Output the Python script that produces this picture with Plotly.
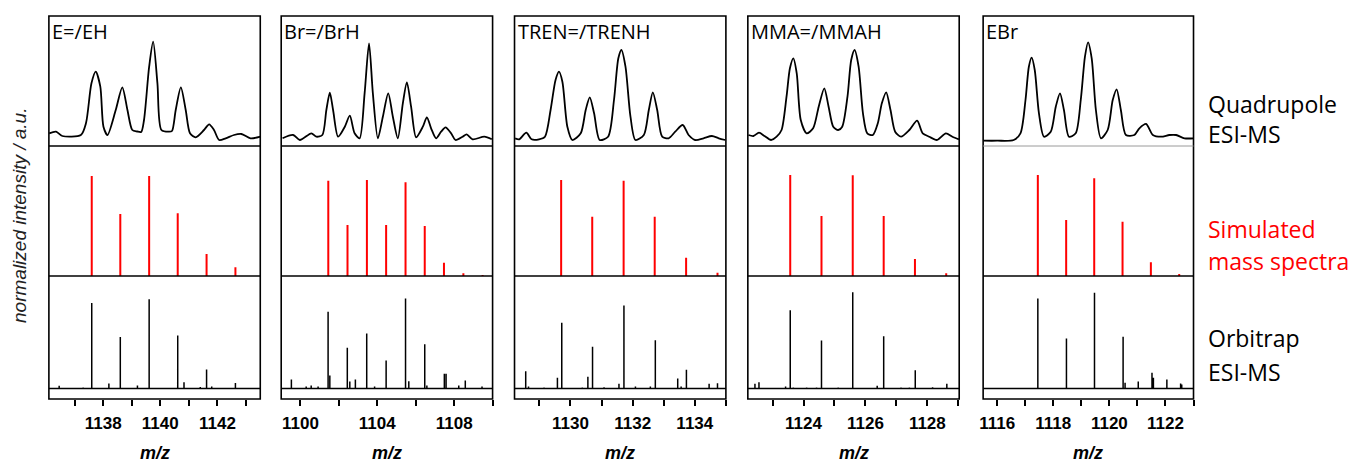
import plotly.graph_objects as go

# ---------------- data (m/z, normalized intensity / a.u.) ----------------
panel_titles = ["E=/EH", "Br=/BrH", "TREN=/TRENH", "MMA=/MMAH", "EBr"]

# Quadrupole ESI-MS profiles
q1_mz = [1136.11, 1136.35, 1136.57, 1137.22, 1137.40, 1137.59, 1137.74, 1137.90, 1138.01, 1138.15, 1138.44, 1138.67,
         1138.85, 1139.02, 1139.19, 1139.33, 1139.43, 1139.61, 1139.75, 1139.90, 1140.04, 1140.31, 1140.41, 1140.54,
         1140.72, 1140.89, 1141.04, 1141.24, 1141.53, 1141.71, 1141.88, 1142.06, 1142.29, 1142.58, 1142.84, 1143.16, 1143.51]
q1_int = [12.7, 14.3, 10, 11, 23, 62.7, 74.3, 59.3, 19.3, 11, 36, 58.7, 36, 16, 14.5, 14, 26, 79.3, 104.3, 62.7, 16,
          14.3, 15, 36, 58.7, 36, 12.7, 8.7, 16, 21.7, 16, 6, 7.7, 11, 12, 7.7, 9.3]

q2_mz = [1099.07, 1099.62, 1099.97, 1100.57, 1100.83, 1101.14, 1101.35, 1101.53, 1101.70, 1101.96, 1102.31, 1102.57,
         1102.82, 1103.08, 1103.34, 1103.57, 1103.77, 1104.03, 1104.29, 1104.57, 1104.81, 1105.07, 1105.33, 1105.54,
         1105.76, 1106.02, 1106.37, 1106.58, 1106.80, 1107.06, 1107.32, 1107.55, 1107.84, 1108.07, 1108.44, 1108.65,
         1108.96, 1109.57, 1109.96]
q2_int = [7.7, 11, 6, 12.7, 9.3, 11, 36, 53.3, 36, 9.3, 19.3, 30.3, 12.7, 7.7, 52.7, 102.7, 52.7, 7.7, 29.3, 52.7,
          29.3, 7.7, 42.7, 63.7, 39.3, 8.7, 19.3, 28.7, 17.7, 7.7, 14.3, 18.7, 12.7, 6, 9.3, 11.7, 6.7, 9.3, 6.7]

q3_mz = [1128.22, 1128.35, 1128.58, 1128.75, 1128.99, 1129.18, 1129.36, 1129.52, 1129.63, 1129.74, 1129.90, 1130.06,
         1130.33, 1130.49, 1130.62, 1130.76, 1130.94, 1131.21, 1131.40, 1131.54, 1131.64, 1131.77, 1131.93, 1132.09,
         1132.36, 1132.52, 1132.65, 1132.79, 1132.95, 1133.16, 1133.37, 1133.61, 1133.80, 1134.01, 1134.28, 1134.55,
         1134.77, 1134.98]
q3_int = [7.7, 6.7, 13.3, 6.7, 6.7, 9.3, 36, 66, 74.3, 64.3, 19.3, 6, 12.7, 36, 48.7, 32.7, 6, 9.3, 46, 87.7, 96,
          79.3, 29.3, 6, 11, 36, 53.7, 36, 9.3, 7.7, 14.3, 21, 11, 6, 7.7, 10, 7.7, 6]

q4_mz = [1122.22, 1122.38, 1122.56, 1122.74, 1122.95, 1123.13, 1123.29, 1123.45, 1123.56, 1123.67, 1123.78, 1123.91,
         1124.10, 1124.31, 1124.49, 1124.67, 1124.81, 1124.96, 1125.12, 1125.25, 1125.42, 1125.54, 1125.65, 1125.78,
         1125.92, 1126.06, 1126.24, 1126.40, 1126.53, 1126.67, 1126.81, 1126.96, 1127.15, 1127.42, 1127.67, 1127.85,
         1128.06, 1128.31, 1128.60, 1128.81, 1129.02]
q4_int = [11, 10, 13.3, 10, 6, 9.3, 16, 49.3, 77.7, 87.7, 72.7, 26, 12.7, 17.7, 39.3, 57.7, 39.3, 19.3, 16, 19.3,
          49.3, 86, 96, 79.3, 32.7, 12.7, 11, 22.7, 42.7, 53.7, 36, 14.3, 9.3, 16, 25.3, 12.7, 9.3, 6, 12.7, 9.3, 6.7]

q5_mz = [1115.50, 1116.00, 1116.59, 1116.83, 1117.01, 1117.13, 1117.23, 1117.34, 1117.49, 1117.67, 1117.91, 1118.09,
         1118.24, 1118.38, 1118.56, 1118.80, 1118.98, 1119.13, 1119.24, 1119.37, 1119.52, 1119.70, 1119.94, 1120.12,
         1120.26, 1120.41, 1120.59, 1120.89, 1121.07, 1121.31, 1121.55, 1121.85, 1122.14, 1122.38, 1122.68, 1123.02]
q5_int = [5.3, 5.3, 6, 12.7, 46, 79.3, 88.3, 76, 32.7, 9.3, 14.3, 39.3, 52.7, 36, 9.3, 12.7, 46, 89.3, 103.7, 87.7,
          36, 7.7, 16, 46, 56.7, 36, 11, 11, 17.7, 22, 11, 9.3, 11, 11, 7.7, 7.7]

# Simulated mass spectra (stick positions and heights)
s1_mz = [1137.60, 1138.60, 1139.61, 1140.61, 1141.62, 1142.63]
s1_int = [100, 62, 100, 62.7, 22, 8.7]
s2_mz = [1101.45, 1102.45, 1103.46, 1104.46, 1105.47, 1106.47, 1107.47, 1108.48, 1109.48]
s2_int = [95.3, 51, 96, 51, 93.7, 50, 13.3, 2.7, 1]
s3_mz = [1129.70, 1130.70, 1131.71, 1132.71, 1133.72, 1134.73]
s3_int = [96, 59.3, 95.3, 59.3, 18.3, 3.3]
s4_mz = [1123.57, 1124.58, 1125.59, 1126.59, 1127.60, 1128.61]
s4_int = [101, 60, 100.7, 60, 17, 2.7]
s5_mz = [1117.45, 1118.46, 1119.46, 1120.47, 1121.48, 1122.49]
s5_int = [101, 56, 97.7, 54.3, 13.7, 2]

# Orbitrap ESI-MS (centroid sticks)
o1_mz = [1136.46, 1137.30, 1137.60, 1138.20, 1138.60, 1139.20, 1139.61, 1140.61, 1140.83, 1141.40, 1141.62, 1141.80, 1142.63]
o1_int = [2.7, 1, 85.6, 5, 51.6, 3, 89.3, 53, 6.3, 1.5, 19, 2, 5.6]
o2_mz = [1099.53, 1100.30, 1100.56, 1100.92, 1101.44, 1101.53, 1102.44, 1102.57, 1102.86, 1103.45, 1103.86, 1104.46,
         1105.47, 1105.64, 1106.47, 1106.58, 1107.49, 1107.58, 1108.24, 1108.58, 1109.45]
o2_int = [9, 2, 3, 2, 76.7, 13, 40.7, 7, 9, 55, 2, 28, 90, 7.3, 44.3, 3, 14.7, 14.7, 3, 8, 2]
o3_mz = [1128.56, 1128.65, 1129.15, 1129.58, 1129.72, 1130.38, 1130.56, 1130.71, 1131.08, 1131.56, 1131.72, 1132.09,
         1132.57, 1132.73, 1133.45, 1133.56, 1133.73, 1134.46, 1134.73]
o3_int = [17.3, 2, 1, 10.7, 65.7, 1, 11.7, 41.7, 1.3, 4.7, 83, 2, 2, 48.3, 10, 2, 18.7, 4.7, 5.3]
o4_mz = [1122.43, 1122.56, 1123.42, 1123.57, 1123.67, 1124.10, 1124.42, 1124.58, 1125.12, 1125.59, 1126.38, 1126.59,
         1127.15, 1127.42, 1127.61, 1128.17, 1128.63]
o4_int = [4.7, 6.3, 2, 78.3, 1, 1, 1, 48, 1, 96.3, 2.7, 52.3, 1, 1, 18.3, 1.3, 4.7]
o5_mz = [1117.45, 1118.47, 1119.47, 1120.49, 1120.56, 1121.03, 1121.52, 1121.57, 1122.05, 1122.54, 1122.58]
o5_int = [90, 50, 95.7, 51.7, 5.7, 7, 15.7, 10.7, 9, 5, 4]

quad = [(q1_mz, q1_int), (q2_mz, q2_int), (q3_mz, q3_int), (q4_mz, q4_int), (q5_mz, q5_int)]
sim = [(s1_mz, s1_int), (s2_mz, s2_int), (s3_mz, s3_int), (s4_mz, s4_int), (s5_mz, s5_int)]
orbi = [(o1_mz, o1_int), (o2_mz, o2_int), (o3_mz, o3_int), (o4_mz, o4_int), (o5_mz, o5_int)]

# ---------------- layout constants ----------------
W, H = 1360, 462
OFF = 8  # page body margin of the rendered html
lefts = [45, 278, 512, 746, 982]
rights = [257, 490, 724, 958, 1193]
x_ranges = [[1136.1, 1143.5], [1099.0, 1110.0], [1128.2, 1135.0], [1122.2, 1129.03], [1115.5, 1123.0]]
major = [2, 4, 2, 2, 2]
minor = [1, 2, 1, 1, 1]
TOP, SEP1, SEP2, BOT = 16, 146, 276, 399
rows_px = [(TOP, SEP1), (SEP1, SEP2), (SEP2, BOT)]
y_ranges = [[0, 130], [0, 130], [-10.5, 112.5]]


def px_x(p):
    return (p - OFF) / W


def px_y(p):
    return 1 - (p - OFF) / H


def sticks(mz, inten):
    xs, ys = [], []
    for m, h in zip(mz, inten):
        xs += [m, m, None]
        ys += [0, h, None]
    return xs, ys


def profile(mz, inten, x0, x1):
    xs, ys = [x0], [0]
    for m, h in sorted(zip(mz, inten)):
        xs += [m, m, m]
        ys += [0, h, 0]
    xs.append(x1)
    ys.append(0)
    return xs, ys


fig = go.Figure()
layout = {}
for i in range(5):
    for r in range(3):
        k = i * 3 + r + 1
        sfx = "" if k == 1 else str(k)
        xa = dict(domain=[px_x(lefts[i]), px_x(rights[i])], range=x_ranges[i], anchor="y" + sfx,
                  showgrid=False, zeroline=False, showline=False, fixedrange=True)
        if r == 2:
            xa.update(ticks="outside", ticklen=6, tickwidth=1.5, tickcolor="black", dtick=major[i], tick0=0,
                      showticklabels=True, ticklabelstandoff=3,
                      tickfont=dict(family="Liberation Sans, Arial", size=17, color="black", weight="bold"),
                      minor=dict(dtick=minor[i], tick0=0, ticks="outside", ticklen=6, tickwidth=1.5,
                                 tickcolor="black", showgrid=False))
        else:
            xa.update(showticklabels=False, ticks="")
        ya = dict(domain=[px_y(rows_px[r][1]), px_y(rows_px[r][0])], range=y_ranges[r], anchor="x" + sfx,
                  visible=False, fixedrange=True)
        layout["xaxis" + sfx] = xa
        layout["yaxis" + sfx] = ya

        if r == 0:
            mz, it = quad[i]
            fig.add_trace(go.Scatter(x=mz, y=it, mode="lines", xaxis="x" + sfx, yaxis="y" + sfx,
                                     line=dict(color="black", width=1.8, shape="spline", smoothing=0.75),
                                     hoverinfo="skip"))
        elif r == 1:
            xs, ys = sticks(*sim[i])
            fig.add_trace(go.Scatter(x=xs, y=ys, mode="lines", xaxis="x" + sfx, yaxis="y" + sfx,
                                     line=dict(color="#ff0000", width=2), hoverinfo="skip"))
        else:
            xs, ys = profile(*orbi[i], x_ranges[i][0], x_ranges[i][1])
            fig.add_trace(go.Scatter(x=xs, y=ys, mode="lines", xaxis="x" + sfx, yaxis="y" + sfx,
                                     line=dict(color="black", width=1.5), hoverinfo="skip"))

shapes = []
annotations = []
for i in range(5):
    x0, x1 = px_x(lefts[i]), px_x(rights[i])
    shapes.append(dict(type="rect", xref="paper", yref="paper", x0=x0, x1=x1, y0=px_y(BOT), y1=px_y(TOP),
                       line=dict(color="black", width=1.6), layer="above"))
    sep_col = "#9a9a9a" if i == 4 else "black"
    sep_w = 1.0 if i == 4 else 1.6
    shapes.append(dict(type="line", xref="paper", yref="paper", x0=x0, x1=x1, y0=px_y(SEP1), y1=px_y(SEP1),
                       line=dict(color=sep_col, width=sep_w), layer="above"))
    shapes.append(dict(type="line", xref="paper", yref="paper", x0=x0, x1=x1, y0=px_y(SEP2), y1=px_y(SEP2),
                       line=dict(color="black", width=1.6), layer="above"))
    annotations.append(dict(text=panel_titles[i], xref="paper", yref="paper", x=px_x(lefts[i] + 1), y=px_y(31),
                            xanchor="left", yanchor="middle", showarrow=False,
                            font=dict(family="Open Sans", size=20, color="black")))
    annotations.append(dict(text="<b><i>m/z</i></b>", xref="paper", yref="paper",
                            x=px_x((lefts[i] + rights[i]) / 2), y=px_y(453), xanchor="center", yanchor="middle",
                            showarrow=False, font=dict(family="Liberation Sans, Arial", size=18, color="black")))

right_labels = [("Quadrupole", 104, "black"), ("ESI-MS", 134, "black"),
                ("Simulated", 229, "#ff0000"), ("mass spectra", 261, "#ff0000"),
                ("Orbitrap", 338, "black"), ("ESI-MS", 372, "black")]
for txt, yp, col in right_labels:
    annotations.append(dict(text=txt, xref="paper", yref="paper", x=px_x(1206), y=px_y(yp), xanchor="left",
                            yanchor="middle", showarrow=False, font=dict(family="Open Sans", size=23, color=col)))

annotations.append(dict(text="<i>normalized intensity / a.u.</i>", xref="paper", yref="paper", x=px_x(15),
                        y=px_y(215), xanchor="center", yanchor="middle", textangle=-90, showarrow=False,
                        font=dict(family="Liberation Sans, Arial", size=19, color="#222222")))

fig.update_layout(**layout)
fig.update_layout(width=W, height=H, margin=dict(l=0, r=0, t=0, b=0), paper_bgcolor="white",
                  plot_bgcolor="white", showlegend=False, shapes=shapes, annotations=annotations)

fig.write_html("out.html")
